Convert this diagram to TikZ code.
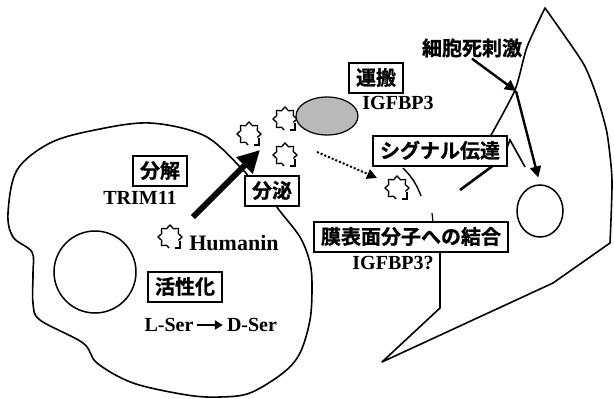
\documentclass[tikz,border=0pt]{standalone}
\usepackage{fontspec}
\setmainfont{Liberation Serif}
\newfontfamily\jpfont{Noto Sans CJK JP}[BoldFont={Noto Sans CJK JP Bold}, BoldFeatures={FakeBold=1}]
\usetikzlibrary{arrows.meta,shapes.geometric}

\tikzset{
  cell/.style={line width=1.6pt, line join=round, line cap=round},
  tag/.style={draw, fill=white, line width=1.3pt, inner xsep=7pt, inner ysep=5pt,
    text height=17pt, text depth=3pt, font=\jpfont\bfseries\fontsize{20}{22}\selectfont},
  lbl/.style={inner sep=1pt, font=\bfseries\fontsize{20}{22}\selectfont},
  hit/.style={line width=2.4pt, -{Triangle[length=11pt,width=11pt]}},
  humanin/.pic={
    \draw[line width=1.3pt, line join=miter]
      (22.5:9) \foreach \a/\r in {0/12,-22.5/9,-45/12,-67.5/9,-90/12,-112.5/9,
        -135/12,-157.5/9,-180/12,-202.5/9,-225/12,-247.5/9,-265/11} { -- (\a:\r) };
    \draw[line width=1.6pt] (10,4) -- (10,11) -- (5,11);
  }
}

\begin{document}
\begin{tikzpicture}[x=1pt, y=-1pt]
      \useasboundingbox (0,0) rectangle (614,399);
      \coordinate (h0) at (170,237);
      \coordinate (hA) at (285,119);
      \coordinate (hB) at (249,134);
      \coordinate (hC) at (285,155);
      \coordinate (hD) at (397,188);
      \coordinate (apex) at (545,8);
      \coordinate (mem) at (516,91);
      \coordinate (tip) at (382,362);
      \coordinate (foot) at (440,308);
      \coordinate (out) at (193,217);
      \coordinate (in) at (260,150);
      \coordinate (dotS) at (317,152);
      \coordinate (dotE) at (377,178);
      % left cell
      \draw[cell] plot[smooth, tension=0.55] coordinates {(250,180) (243,170) (205,136)
        (150,123) (95,130) (50,143) (17,170) (8,213) (13,237) (32,252) (33,273) (33,303)
        (40,320) (83,343) (97,363) (133,383) (187,395) (220,397) (250,393) (283,373)
        (300,353) (310,320) (312,287) (310,263) (300,237) (277,207) (278,200)};
      \node[draw, circle, line width=1.5pt, minimum size=82pt] (nucL) at (95,272) {};
      % right cell
      \draw[cell] plot[smooth, tension=0.4] coordinates {(490,137) (515,90) (527,47) (apex)};
      \draw[cell] plot[smooth, tension=0.4] coordinates {(apex) (583,63) (597,97) (607,133)
        (612,180) (610,243)} -- (553,283) -- (tip) -- (foot) -- (440,250);
      \node[draw, ellipse, line width=1.5pt, minimum width=46pt, minimum height=52pt] (nucR) at (540,211) {};
      \draw[line width=2.6pt] (498,162) -- (460,190);
      \draw[line width=1.6pt] (503,158) -- (510,140) -- (525,167);
      \draw[line width=1.4pt] (403,168) to[bend left=12] (421,196);
      \draw[line width=1.2pt] (432,213) -- (433,222);
      \foreach \p in {h0,hA,hB,hC,hD} {
        \pic at (\p) {humanin};
      }
      \node[draw, ellipse, line width=1.2pt, fill=gray!55, minimum width=62pt, minimum height=38pt] (carrier) at (327,116) {};
      \draw[line width=6pt, -{Triangle[length=22pt,width=22pt]}] (out) -- (in);
      \draw[line width=2pt, dash pattern=on 2pt off 2pt, -{Triangle[length=10pt,width=10pt]}] (dotS) -- (dotE);
      \node[tag] (bunkai) at (160,171) {分解};
      \node[lbl] (trim) at (140,198) {TRIM11};
      \node[lbl, font=\bfseries\fontsize{22}{24}\selectfont] (hname) at (234,243) {Humanin};
      \node[tag] (kassei) at (185,287) {活性化};
      \node[lbl] (lser) at (169,325) {L-Ser};
      \node[lbl] (dser) at (252,325) {D-Ser};
      \draw[line width=2pt, shorten <=2pt, shorten >=3pt, -{Triangle[length=8pt,width=9pt]}] (lser) -- (dser);
      \node[tag] (bunpi) at (272,191) {分泌};
      \node[tag] (unpan) at (376,78) {運搬};
      \node[lbl] (igf) at (398,103) {IGFBP3};
      \node[tag] (signal) at (440,151) {シグナル伝達};
      \node[tag] (bind) at (411,237) {膜表面分子への結合};
      \node[lbl] (igfq) at (393,263) {IGFBP3?};
      \node[lbl] (stim) at (472,48) {\jpfont 細胞死刺激};
      \draw[hit] (stim.south) -- (mem);
      \draw[hit, shorten >=7pt] (mem) -- (nucR.north);
    \end{tikzpicture}
\end{document}
